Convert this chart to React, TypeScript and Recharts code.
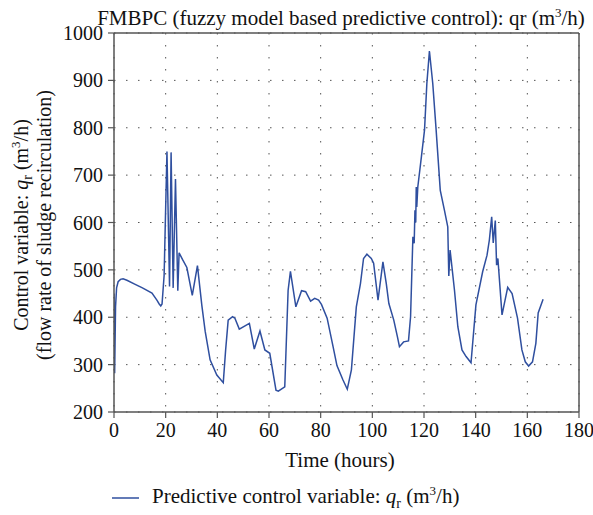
import React from 'react';
import { LineChart, Line, XAxis, YAxis, CartesianGrid, ReferenceLine, Legend } from 'recharts';

const timeHours = [
  0, 0.25, 0.6, 1.0, 1.6, 2.5, 3.5, 5, 8, 11, 14.7, 16.6, 17.5, 18.1, 18.6, 19.4,
  20.5, 21.5, 22.1, 22.9, 23.8, 24.7, 25.2, 26.5, 28.2, 30.3, 32.3, 34.0, 35.3, 37.2,
  39.8, 42.3, 43.2, 44.2, 45.9, 46.8, 48.5, 52.4, 54.3, 56.5, 58.4, 60.3, 62.7, 63.6,
  66.1, 67.4, 68.3, 70.4, 72.6, 74.2, 76.1, 77.7, 79.2, 80.3, 82.5, 84.8, 86.3, 88.6,
  90.3, 91.9, 93.8, 95.4, 96.6, 97.9, 99.6, 100.5, 102.2, 104.1, 105.4, 106.4, 108.3,
  109.7, 110.5, 112.1, 114.0, 114.8, 115.7, 116.2, 116.5, 116.8, 117.0, 117.2, 117.6,
  119.0, 120.2, 121.1, 122.1, 123.4, 124.7, 126.3, 127.9, 129.2, 129.6, 130.1, 131.8,
  133.1, 134.7, 136.3, 138.2, 140.1, 142.7, 144.4, 145.3, 146.2, 146.8, 147.6, 148.1,
  148.6, 150.2, 152.4, 154.1, 156.2, 157.9, 159.2, 160.5, 162.0, 163.3, 164.2, 166.1,
];

const qrValues = [
  450, 282, 422, 462, 475, 480, 481, 478, 470, 462, 451, 436, 428, 424, 428, 488,
  750, 465, 748, 462, 692, 456, 536, 522, 505, 446, 509, 425, 370, 310,
  278, 262, 330, 394, 401, 398, 375, 387, 333, 371, 331, 324, 246, 244,
  253, 457, 497, 422, 456, 454, 434, 440, 436, 427, 398, 338, 298, 268,
  248, 289, 422, 471, 524, 533, 524, 514, 436, 517, 471, 429, 394,
  359, 338, 348, 350, 401, 570, 556, 626, 600, 675, 633, 675,
  739, 795, 893, 962, 893, 795, 668, 626, 591, 487, 542, 457,
  380, 331, 317, 304, 426, 496, 531, 563, 612, 557, 604, 510,
  524, 405, 463, 450, 398, 331, 306, 297, 306, 345, 409, 438,
];

const xTicks = [0, 20, 40, 60, 80, 100, 120, 140, 160, 180];
const yTicks = [200, 300, 400, 500, 600, 700, 800, 900, 1000];

const data = timeHours.map((t, i) => ({ t, qr: qrValues[i] }));

const FONT = '"Liberation Serif", "DejaVu Serif", serif';
const LINE_COLOR = '#2f4f9f';
const AXIS_COLOR = '#555';

const LegendContent = () => (
  <div style={{ display: 'flex', alignItems: 'center', fontFamily: FONT, fontSize: 21, color: '#111', whiteSpace: 'nowrap' }}>
    <svg width={36} height={10} style={{ marginRight: 4 }}>
      <line x1={0} y1={5} x2={27} y2={5} stroke={LINE_COLOR} strokeWidth={1.5} />
    </svg>
    <span>
      Predictive control variable: <i>q</i>
      <sub style={{ fontSize: 14 }}>r</sub> (m<sup style={{ fontSize: 13 }}>3</sup>/h)
    </span>
  </div>
);

export default function App() {
  return (
    <div style={{ position: 'absolute', left: 0, top: 0, width: 593, height: 515, background: '#fff', fontFamily: FONT }}>
      <LineChart width={593} height={515} data={data} margin={{ top: 33, right: 14, bottom: 73, left: 64 }}>
        <CartesianGrid stroke="#555" strokeDasharray="1.5 10.5" />
        <XAxis
          dataKey="t"
          type="number"
          domain={[0, 180]}
          ticks={xTicks}
          interval={0}
          height={30}
          tickSize={6}
          tickMargin={5}
          axisLine={{ stroke: AXIS_COLOR, strokeWidth: 1.5 }}
          tickLine={{ stroke: AXIS_COLOR, strokeWidth: 1.2 }}
          tick={{ fill: '#111', fontSize: 20, fontFamily: FONT }}
          allowDataOverflow
        />
        <YAxis
          type="number"
          domain={[200, 1000]}
          ticks={yTicks}
          interval={0}
          width={50}
          tickSize={6}
          tickMargin={5}
          axisLine={{ stroke: AXIS_COLOR, strokeWidth: 1.5 }}
          tickLine={{ stroke: AXIS_COLOR, strokeWidth: 1.2 }}
          tick={{ fill: '#111', fontSize: 20, fontFamily: FONT }}
          allowDataOverflow
        />
        <ReferenceLine y={1000} stroke={AXIS_COLOR} strokeWidth={1.5} />
        <ReferenceLine x={180} stroke={AXIS_COLOR} strokeWidth={1.5} />
        <Line
          type="linear"
          dataKey="qr"
          stroke={LINE_COLOR}
          strokeWidth={1.5}
          dot={false}
          activeDot={false}
          isAnimationActive={false}
        />
        <Legend
          layout="horizontal"
          verticalAlign="middle"
          align="center"
          content={LegendContent}
          wrapperStyle={{ top: 483, left: 112, width: 'auto' }}
        />
      </LineChart>
      <svg width={593} height={515} style={{ position: 'absolute', left: 0, top: 0, pointerEvents: 'none' }}>
        <text x={341} y={25} textAnchor="middle" fontSize={21} fill="#111" fontFamily={FONT}>
          FMBPC (fuzzy model based predictive control): qr (m
          <tspan dy={-8} fontSize={13}>3</tspan>
          <tspan dy={8}>/h)</tspan>
        </text>
        <text x={340} y={467} textAnchor="middle" fontSize={21} fill="#111" fontFamily={FONT}>
          Time (hours)
        </text>
        <text transform="rotate(-90)" x={-225} y={28} textAnchor="middle" fontSize={20} fill="#111" fontFamily={FONT}>
          Control variable: <tspan fontStyle="italic">q</tspan>
          <tspan dy={4} fontSize={14}>r</tspan>
          <tspan dy={-4}> (m</tspan>
          <tspan dy={-8} fontSize={13}>3</tspan>
          <tspan dy={8}>/h)</tspan>
        </text>
        <text transform="rotate(-90)" x={-225} y={51} textAnchor="middle" fontSize={20} fill="#111" fontFamily={FONT}>
          (flow rate of sludge recirculation)
        </text>
      </svg>
    </div>
  );
}
